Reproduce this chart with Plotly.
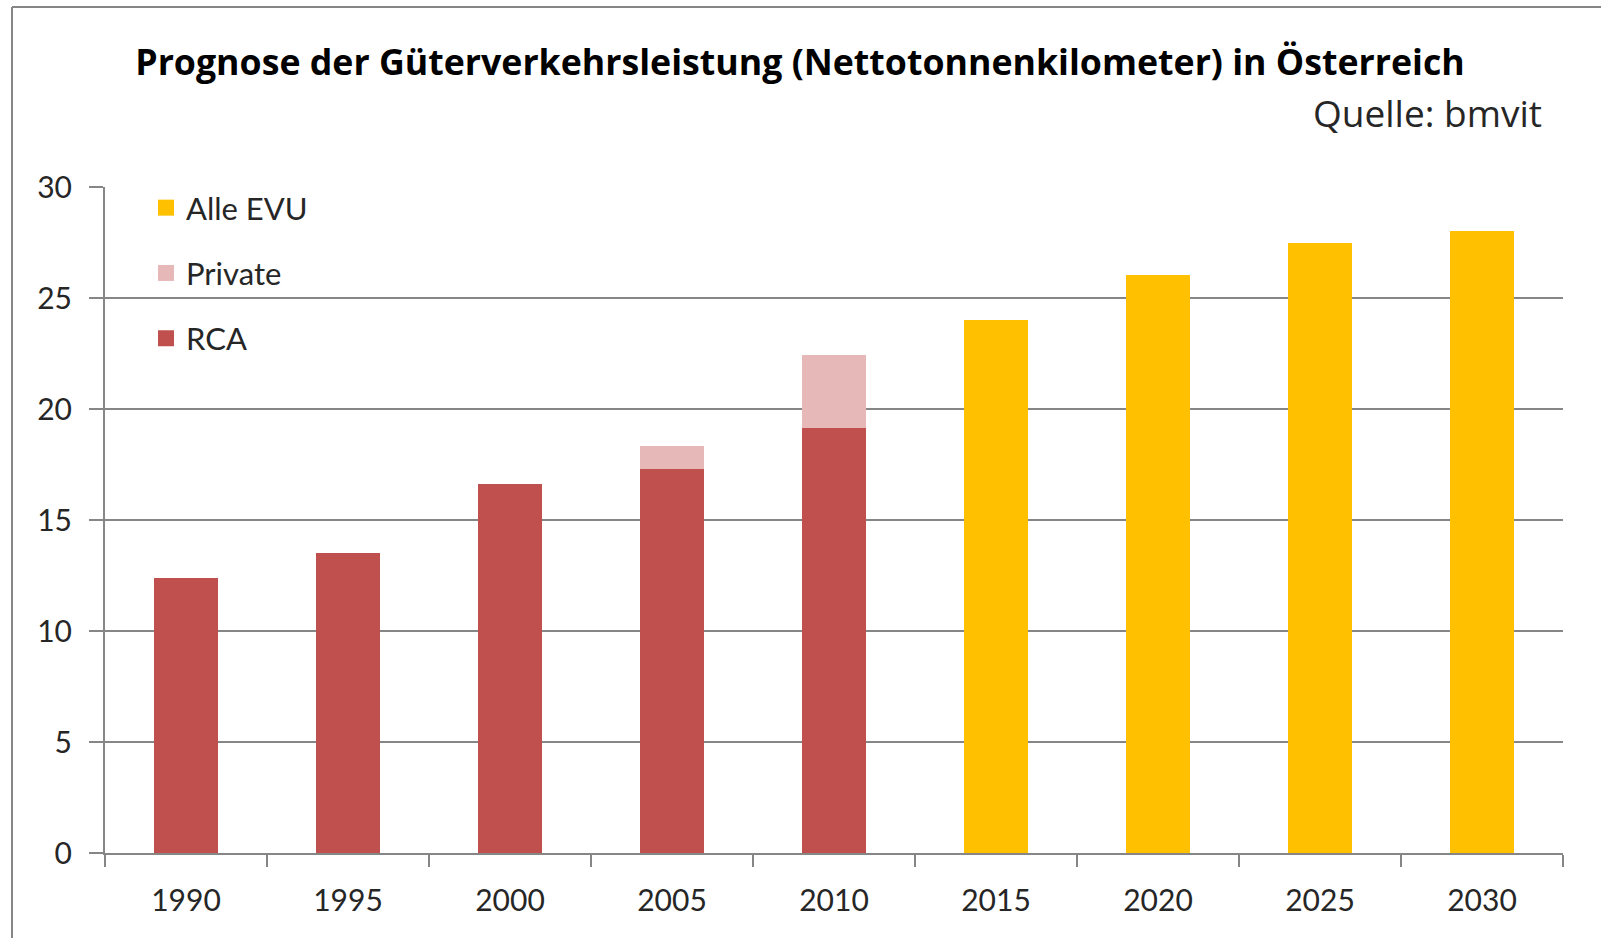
import plotly.graph_objects as go

# Data
years = ['1990', '1995', '2000', '2005', '2010', '2015', '2020', '2025', '2030']
rca = [12.4, 13.5, 16.6, 17.3, 19.15, None, None, None, None]
private = [None, None, None, 1.05, 3.3, None, None, None, None]
alle_evu = [None, None, None, None, None, 24.0, 26.05, 27.5, 28.0]

names = ['RCA', 'Private', 'Alle EVU']
colors = ['#C0504D', '#E6B9B8', '#FFC000']

FONT = 'Lato'
W, H = 1601, 938
L, R, T, B = 105, 38, 187, 85
pw = W - L - R
ph = H - T - B


def px_x(x):
    return (x - L) / pw


def px_y(y):
    return 1 - (y - T) / ph


fig = go.Figure()

for name, vals, col in zip(names, [rca, private, alle_evu], colors):
    fig.add_trace(go.Bar(x=years, y=vals, name=name, marker=dict(color=col, line=dict(width=0)),
                         showlegend=False))

# legend entries with bigger squares (top to bottom: Alle EVU, Private, RCA)
for name, col in zip(names[::-1], colors[::-1]):
    fig.add_trace(go.Scatter(x=[None], y=[None], mode='markers', name=name, legendgroup=name,
                             marker=dict(symbol='square', size=16, color=col)))

fig.update_layout(
    width=W, height=H,
    margin=dict(l=L, r=R, t=T, b=B),
    barmode='stack',
    bargap=0.6,
    plot_bgcolor='white',
    paper_bgcolor='white',
    font=dict(family=FONT, size=30, color='#262626'),
    title=dict(text='<b>Prognose der Güterverkehrsleistung (Nettotonnenkilometer) in Österreich</b>',
               x=800 / W, xanchor='center', y=1 - 63 / H, yanchor='middle',
               font=dict(family='Open Sans', size=35.7, color='black')),
    legend=dict(x=px_x(146), y=px_y(181), xanchor='left', yanchor='top',
                traceorder='grouped', tracegroupgap=22,
                bgcolor='rgba(0,0,0,0)', font=dict(size=31, color='#262626'),
                itemsizing='trace'),
    xaxis=dict(type='category', showline=True, linecolor='#868686', linewidth=2,
               ticks='outside', tickson='boundaries', ticklen=12, tickcolor='#868686', tickwidth=2,
               showgrid=False, tickfont=dict(size=30), ticklabelstandoff=20),
    yaxis=dict(range=[0, 30], dtick=5, showline=True, linecolor='#868686', linewidth=2,
               ticks='outside', ticklen=14, tickcolor='#868686', tickwidth=2,
               showgrid=True, gridcolor='#868686', gridwidth=2, zeroline=False,
               tickfont=dict(size=30), ticklabelstandoff=11),
    annotations=[dict(text='Quelle: bmvit', xref='paper', yref='paper',
                      x=px_x(1544), y=px_y(113), xanchor='right', yanchor='middle',
                      showarrow=False, font=dict(family='Open Sans', size=37, color='#262626'))],
    shapes=[
        dict(type='line', xref='paper', yref='paper', x0=px_x(12), x1=px_x(1601), y0=px_y(7), y1=px_y(7),
             line=dict(color='#868686', width=2)),
        dict(type='line', xref='paper', yref='paper', x0=px_x(12), x1=px_x(12), y0=px_y(7), y1=px_y(938),
             line=dict(color='#868686', width=2)),
    ],
)

fig.write_html('out.html', config={'displayModeBar': False},
               post_script="document.body.style.margin='0';")
